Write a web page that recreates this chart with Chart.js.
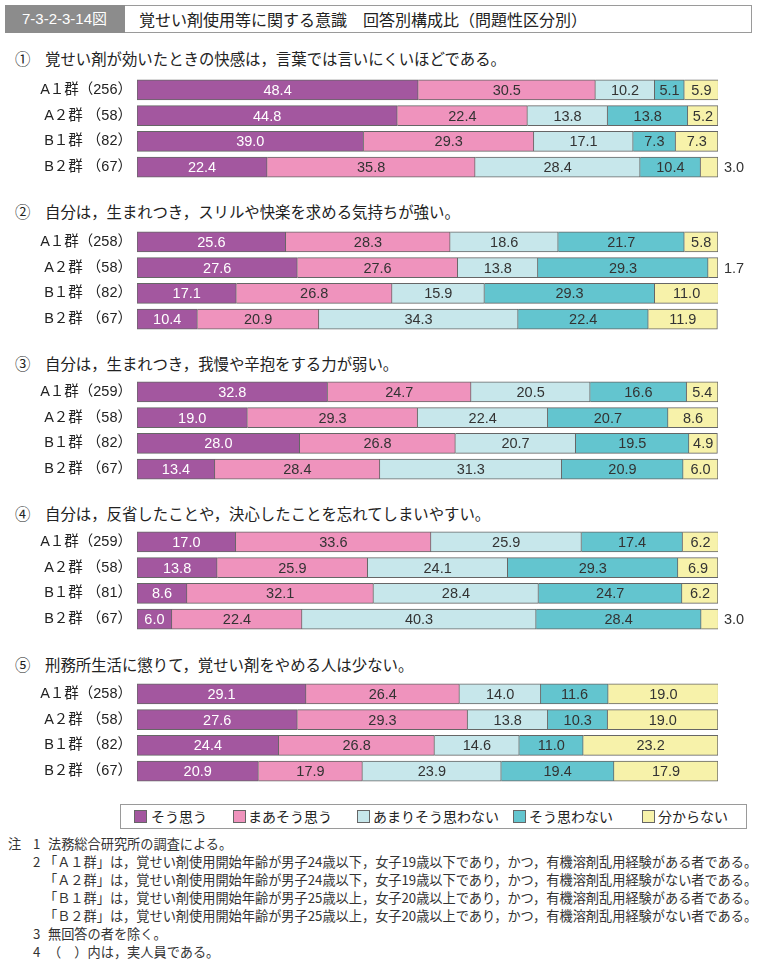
<!DOCTYPE html>
<html lang="ja">
<head>
<meta charset="utf-8">
<script src="https://cdn.jsdelivr.net/npm/chart.js@4.4.0/dist/chart.umd.min.js"></script>
<style>
  body { margin:0; background:#fff; width:759px; height:968px; position:relative; overflow:hidden;
    font-family:"Liberation Sans","Noto Sans CJK JP",sans-serif; color:#222; }
  .abs { position:absolute; }
  #figno { left:5px; top:5px; width:120px; height:28px; background:#8c8c8c; color:#fff;
    font-size:15px; line-height:28px; text-indent:17px; }
  #figtitle { left:125px; top:5px; width:626px; height:26px; border:1px solid #9a9a9a; border-left:none;
    font-family:"Noto Sans CJK JP",sans-serif; font-size:16px; line-height:26px; text-indent:14px; }
  .qnum, .qtext { font-family:"Noto Sans CJK JP",sans-serif; font-size:15.4px; line-height:20px; }
  canvas.abs { left:0; }
  #legend { left:120px; top:804px; width:625px; height:23px; border:1px solid #9a9a9a; }
  .lg { position:absolute; top:0; height:23px; line-height:23px; white-space:nowrap;
    font-family:"Noto Sans CJK JP",sans-serif; font-size:14px; }
  .lg i { position:absolute; left:0; top:5px; width:11px; height:11px; border:1px solid #666; }
  .lg span { position:absolute; top:0; white-space:nowrap; }
  .note { font-family:"Noto Sans CJK JP",sans-serif; font-size:13.2px; line-height:18px; color:#333; white-space:nowrap; }
</style>
</head>
<body>
<div id="figno" class="abs">7-3-2-3-14図</div>
<div id="figtitle" class="abs">覚せい剤使用等に関する意識　回答別構成比（問題性区分別）</div>
<div id="legend" class="abs"></div>
<div id="notes"></div>
<script>
// 設問
const questionNums = ['①', '②', '③', '④', '⑤'];
const questionTitles = [
  '覚せい剤が効いたときの快感は，言葉では言いにくいほどである。',
  '自分は，生まれつき，スリルや快楽を求める気持ちが強い。',
  '自分は，生まれつき，我慢や辛抱をする力が弱い。',
  '自分は，反省したことや，決心したことを忘れてしまいやすい。',
  '刑務所生活に懲りて，覚せい剤をやめる人は少ない。'
];
const answerLabels = ['そう思う', 'まあそう思う', 'あまりそう思わない', 'そう思わない', '分からない'];

// 群ラベル（実人員）
const q1Groups = ['A１群（256）', 'A２群 （58）', 'B１群 （82）', 'B２群 （67）'];
const q2Groups = ['A１群（258）', 'A２群 （58）', 'B１群 （82）', 'B２群 （67）'];
const q3Groups = ['A１群（259）', 'A２群 （58）', 'B１群 （82）', 'B２群 （67）'];
const q4Groups = ['A１群（259）', 'A２群 （58）', 'B１群 （81）', 'B２群 （67）'];
const q5Groups = ['A１群（258）', 'A２群 （58）', 'B１群 （82）', 'B２群 （67）'];

// 構成比（%）: 各行 = そう思う, まあそう思う, あまりそう思わない, そう思わない, 分からない
const q1Rows = [[48.4, 30.5, 10.2, 5.1, 5.9], [44.8, 22.4, 13.8, 13.8, 5.2], [39.0, 29.3, 17.1, 7.3, 7.3], [22.4, 35.8, 28.4, 10.4, 3.0]];
const q2Rows = [[25.6, 28.3, 18.6, 21.7, 5.8], [27.6, 27.6, 13.8, 29.3, 1.7], [17.1, 26.8, 15.9, 29.3, 11.0], [10.4, 20.9, 34.3, 22.4, 11.9]];
const q3Rows = [[32.8, 24.7, 20.5, 16.6, 5.4], [19.0, 29.3, 22.4, 20.7, 8.6], [28.0, 26.8, 20.7, 19.5, 4.9], [13.4, 28.4, 31.3, 20.9, 6.0]];
const q4Rows = [[17.0, 33.6, 25.9, 17.4, 6.2], [13.8, 25.9, 24.1, 29.3, 6.9], [8.6, 32.1, 28.4, 24.7, 6.2], [6.0, 22.4, 40.3, 28.4, 3.0]];
const q5Rows = [[29.1, 26.4, 14.0, 11.6, 19.0], [27.6, 29.3, 13.8, 10.3, 19.0], [24.4, 26.8, 14.6, 11.0, 23.2], [20.9, 17.9, 23.9, 19.4, 17.9]];

const notes = [
  ['注', '1', '法務総合研究所の調査による。'],
  ['', '2', '「Ａ１群」は，覚せい剤使用開始年齢が男子24歳以下，女子19歳以下であり，かつ，有機溶剤乱用経験がある者である。'],
  ['', '', '「Ａ２群」は，覚せい剤使用開始年齢が男子24歳以下，女子19歳以下であり，かつ，有機溶剤乱用経験がない者である。'],
  ['', '', '「Ｂ１群」は，覚せい剤使用開始年齢が男子25歳以上，女子20歳以上であり，かつ，有機溶剤乱用経験がある者である。'],
  ['', '', '「Ｂ２群」は，覚せい剤使用開始年齢が男子25歳以上，女子20歳以上であり，かつ，有機溶剤乱用経験がない者である。'],
  ['', '3', '無回答の者を除く。'],
  ['', '4', '（　）内は，実人員である。']
];

const colors = ['#a3579f', '#ef93bd', '#c7e7eb', '#63c5cf', '#f7f2aa'];
const groups = [q1Groups, q2Groups, q3Groups, q4Groups, q5Groups];
const rows = [q1Rows, q2Rows, q3Rows, q4Rows, q5Rows];
const titleTops = [48, 201, 353, 503, 654];
const chartTops = [77, 229, 379, 529, 681];
const PAD = 16; // 上下の余白（軸ラベル分）

// 値ラベル（バー内、狭い場合は右外側）
const valueLabels = {
  id: 'valueLabels',
  afterDatasetsDraw(chart) {
    const ctx = chart.ctx;
    ctx.save();
    ctx.font = '14.5px "Liberation Sans", Arial, sans-serif';
    ctx.textBaseline = 'middle';
    chart.data.datasets.forEach((ds, di) => {
      chart.getDatasetMeta(di).data.forEach((bar, i) => {
        const v = ds.data[i];
        const w = Math.abs(bar.x - bar.base);
        if (w >= 22) {
          ctx.textAlign = 'center';
          ctx.fillStyle = di === 0 ? '#fff' : '#333';
          ctx.fillText(v.toFixed(1), (bar.x + bar.base) / 2, bar.y + 1);
        } else {
          ctx.textAlign = 'left';
          ctx.fillStyle = '#333';
          ctx.fillText(v.toFixed(1), chart.chartArea.right + 6, bar.y + 1);
        }
      });
    });
    ctx.restore();
  }
};

groups.forEach((labels, q) => {
  const num = document.createElement('div');
  num.className = 'abs qnum';
  num.style.left = '15px';
  num.style.top = titleTops[q] + 'px';
  num.textContent = questionNums[q];
  document.body.appendChild(num);
  const t = document.createElement('div');
  t.className = 'abs qtext';
  t.style.left = '45px';
  t.style.top = titleTops[q] + 'px';
  t.textContent = questionTitles[q];
  document.body.appendChild(t);

  const cv = document.createElement('canvas');
  cv.className = 'abs';
  cv.width = 759; cv.height = 103 + PAD * 2;
  cv.style.top = (chartTops[q] - PAD) + 'px';
  document.body.appendChild(cv);

  new Chart(cv, {
    type: 'bar',
    data: {
      labels: labels,
      datasets: answerLabels.map((a, k) => ({
        label: a,
        data: rows[q].map(r => r[k]),
        backgroundColor: colors[k],
        borderColor: '#666',
        borderWidth: 1,
        borderSkipped: k === 0 ? false : 'start',
        barThickness: 20
      }))
    },
    options: {
      indexAxis: 'y',
      responsive: false,
      animation: false,
      devicePixelRatio: 1,
      layout: { padding: { left: 30, right: 41, top: PAD, bottom: PAD } },
      plugins: { legend: { display: false }, tooltip: { enabled: false } },
      scales: {
        x: { stacked: true, min: 0, max: 100, display: false },
        y: {
          stacked: true,
          grid: { display: false, drawTicks: false },
          border: { display: false },
          ticks: { color: '#222', padding: 5, crossAlign: 'near',
            font: { family: '"Liberation Sans", "Noto Sans CJK JP", sans-serif', size: 14.5 } },
          afterFit(s) { s.width = 107; }
        }
      }
    },
    plugins: [valueLabels]
  });
});

// 凡例
const legendX = [[13, 30], [112, 127], [236, 252], [392, 408], [521, 537]];
const legend = document.getElementById('legend');
answerLabels.forEach((a, k) => {
  const box = document.createElement('div');
  box.className = 'lg';
  box.style.left = legendX[k][0] + 'px';
  const sq = document.createElement('i');
  sq.style.background = colors[k];
  box.appendChild(sq);
  const tx = document.createElement('span');
  tx.style.left = (legendX[k][1] - legendX[k][0]) + 'px';
  tx.textContent = a;
  box.appendChild(tx);
  legend.appendChild(box);
});

// 注
const notesEl = document.getElementById('notes');
notes.forEach((n, i) => {
  const y = 835 + i * 18;
  [[n[0], 8], [n[1], 33], [n[2], n[2].startsWith('「') ? 44 : 48]].forEach(([txt, x]) => {
    if (!txt) return;
    const d = document.createElement('div');
    d.className = 'abs note';
    d.style.left = x + 'px';
    d.style.top = y + 'px';
    d.textContent = txt;
    notesEl.appendChild(d);
  });
});
</script>
</body>
</html>
